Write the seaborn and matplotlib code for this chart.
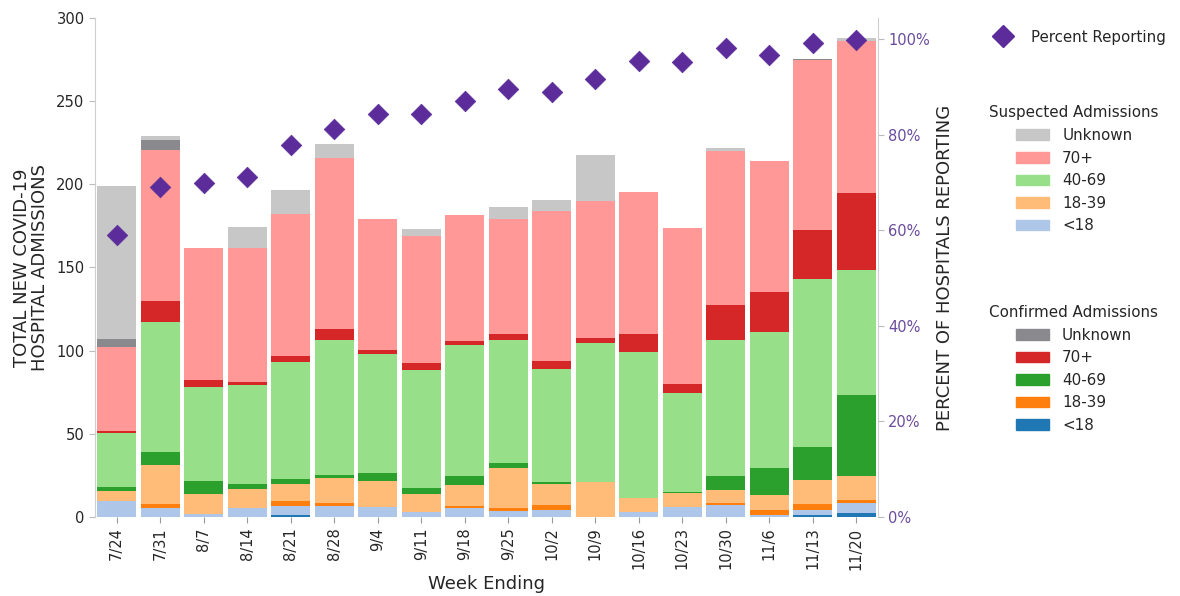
import numpy as np
import matplotlib
matplotlib.use("Agg")
import matplotlib.pyplot as plt
from matplotlib.patches import Patch
from matplotlib.lines import Line2D
from matplotlib.ticker import PercentFormatter
import seaborn as sns

# Weekly new COVID-19 hospital admissions by age group
weeks = ['7/24', '7/31', '8/7', '8/14', '8/21', '8/28', '9/4', '9/11', '9/18',
         '9/25', '10/2', '10/9', '10/16', '10/23', '10/30', '11/6', '11/13', '11/20']

conf_u18 = [0, 0, 0, 0, 1.2, 0, 0, 0, 0, 0, 0, 0, 0, 0, 0, 0, 1.2, 2.6]
sus_u18 = [9.8, 5.2, 2.0, 5.2, 5.6, 6.8, 5.8, 2.8, 5.2, 3.6, 4.2, 0, 3.2, 6.2, 7.0, 1.5, 3.0, 5.6]
conf_18_39 = [0, 2.6, 0, 0, 2.6, 1.4, 0, 0, 1.6, 1.6, 3.2, 0, 0, 0, 1.4, 2.5, 3.4, 2.2]
sus_18_39 = [5.6, 23.4, 11.8, 11.6, 10.4, 15.2, 16.0, 11.0, 12.4, 24.0, 12.4, 21.2, 8.0, 8.0, 7.8, 9.4, 14.6, 14.4]
conf_40_69 = [2.4, 8.0, 7.6, 3.0, 3.2, 2.0, 4.4, 3.4, 5.2, 3.2, 1.4, 0, 0, 0.8, 8.2, 16.0, 20.0, 48.4]
sus_40_69 = [32.6, 78.0, 57.0, 59.4, 70.2, 81.0, 71.6, 71.2, 78.8, 74.0, 68.0, 83.2, 88.0, 59.4, 82.0, 82.0, 101.0, 75.2]
conf_70 = [1.4, 12.6, 4.0, 2.0, 3.6, 6.8, 2.6, 4.4, 2.6, 3.4, 4.6, 3.4, 10.6, 5.4, 20.8, 24.0, 29.2, 46.4]
sus_70 = [50.6, 91.0, 79.0, 80.2, 85.2, 102.6, 78.8, 76.4, 76.0, 69.4, 90.0, 82.2, 85.4, 94.0, 93.0, 78.6, 102.0, 91.6]
conf_unk = [4.4, 6.0, 0, 0, 0, 0, 0, 0, 0, 0, 0, 0, 0, 0, 0, 0, 0.8, 0]
sus_unk = [92.4, 2.4, 0, 12.8, 14.4, 8.4, 0, 4.2, 0, 7.2, 6.6, 27.8, 0, 0, 1.5, 0, 0, 1.5]

# Share of hospitals reporting each week (%)
pct_reporting = [59.0, 69.1, 70.0, 71.2, 77.9, 81.3, 84.3, 84.3, 87.2, 89.7, 88.9,
                 91.8, 95.5, 95.3, 98.2, 96.8, 99.3, 99.9]

age_labels = ['<18', '18-39', '40-69', '70+', 'Unknown']
conf_colors = ['#1f77b4', '#ff7f0e', '#2ca02c', '#d62728', '#8a8a8e']
sus_colors = ['#aec7e8', '#ffbb78', '#98df8a', '#ff9896', '#c7c7c7']
diamond_color = '#5b2c9a'
tick_purple = '#6a4c9c'

# Stacking order, bottom to top: confirmed then suspected for each age group
layers = [
    (conf_u18, conf_colors[0]), (sus_u18, sus_colors[0]),
    (conf_18_39, conf_colors[1]), (sus_18_39, sus_colors[1]),
    (conf_40_69, conf_colors[2]), (sus_40_69, sus_colors[2]),
    (conf_70, conf_colors[3]), (sus_70, sus_colors[3]),
    (conf_unk, conf_colors[4]), (sus_unk, sus_colors[4]),
]

sns.set_style("ticks")
plt.rcParams['font.family'] = ['DejaVu Sans']

fig = plt.figure(figsize=(11.8, 5.96), dpi=100)
ax = fig.add_axes([0.0805, 0.1325, 0.6635, 0.8375])

# Draw cumulative totals from the top layer down so each band shows through
values = np.array([np.array(v, dtype=float) for v, _ in layers])
cums = np.cumsum(values, axis=0)
for k in range(len(layers) - 1, -1, -1):
    sns.barplot(x=weeks, y=cums[k], color=layers[k][1], saturation=1,
                width=0.9, ax=ax, linewidth=0, order=weeks)

ax.set_xlim(-0.5, len(weeks) - 0.5)
ax.set_ylim(0, 300)
ax.set_yticks(range(0, 301, 50))
ax.set_xlabel('Week Ending', fontsize=13)
ax.set_ylabel('TOTAL NEW COVID-19\nHOSPITAL ADMISSIONS', fontsize=13,
              labelpad=5, linespacing=1.05)
ax.tick_params(axis='x', labelrotation=90, labelsize=10.5, length=4, color='#999999')
ax.tick_params(axis='y', labelsize=10.6, length=4, color='#bbbbbb')
for s in ['top', 'right', 'bottom']:
    ax.spines[s].set_visible(False)
ax.spines['left'].set_color('#cfcfcf')

ax2 = ax.twinx()
sns.scatterplot(x=np.arange(len(weeks)), y=pct_reporting, marker='D', s=110,
                color=diamond_color, edgecolor=diamond_color, linewidth=0.5,
                ax=ax2, zorder=5, legend=False)
ax2.set_ylim(0, 104.5)
ax2.set_yticks(range(0, 101, 20))
ax2.yaxis.set_major_formatter(PercentFormatter(100, decimals=0))
ax2.tick_params(axis='y', labelsize=10.5, labelcolor=tick_purple, length=4, color='#bbbbbb')
ax2.set_ylabel('PERCENT OF HOSPITALS REPORTING', fontsize=13, labelpad=4)
for s in ['top', 'left', 'bottom']:
    ax2.spines[s].set_visible(False)
ax2.spines['right'].set_color('#cfcfcf')
ax2.set_xlim(-0.5, len(weeks) - 0.5)

# Legends
pct_handle = [Line2D([], [], marker='D', linestyle='none', markersize=11,
                     color=diamond_color)]
leg1 = fig.legend(pct_handle, ['Percent Reporting'], loc='upper left',
                  bbox_to_anchor=(0.826, 0.973), frameon=False, fontsize=10.8,
                  handletextpad=0.85)

sus_handles = [Patch(color=c) for c in reversed(sus_colors)]
leg2 = fig.legend(sus_handles, list(reversed(age_labels)), title='Suspected Admissions',
                  loc='upper left', bbox_to_anchor=(0.827, 0.846), frameon=False,
                  fontsize=10.9, title_fontsize=10.9, handlelength=2.2,
                  handleheight=0.7, handletextpad=0.85, labelspacing=0.5)

conf_handles = [Patch(color=c) for c in reversed(conf_colors)]
leg3 = fig.legend(conf_handles, list(reversed(age_labels)), title='Confirmed Admissions',
                  loc='upper left', bbox_to_anchor=(0.827, 0.511), frameon=False,
                  fontsize=10.9, title_fontsize=10.9, handlelength=2.2,
                  handleheight=0.7, handletextpad=0.85, labelspacing=0.5)

fig.savefig('out.png', dpi=100)
